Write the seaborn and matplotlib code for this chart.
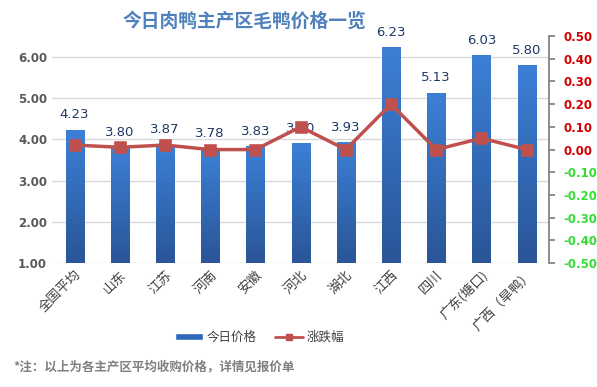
import numpy as np
import pandas as pd
import seaborn as sns
import matplotlib
matplotlib.use('Agg')
import matplotlib.pyplot as plt
from matplotlib.lines import Line2D
from matplotlib.patches import Patch
from matplotlib.colors import LinearSegmentedColormap

sns.set_theme(style="white")
plt.rcParams['font.family'] = ['Noto Sans CJK SC', 'DejaVu Sans']

# data
regions = ['全国平均', '山东', '江苏', '河南', '安徽', '河北', '湖北', '江西', '四川', '广东(塘口)', '广西（旱鸭）']
prices = [4.23, 3.80, 3.87, 3.78, 3.83, 3.90, 3.93, 6.23, 5.13, 6.03, 5.80]
changes = [0.02, 0.01, 0.02, 0.00, 0.00, 0.10, 0.00, 0.20, 0.00, 0.05, 0.00]
left_ticks = [1, 2, 3, 4, 5, 6]
right_ticks = [-0.5, -0.4, -0.3, -0.2, -0.1, 0.0, 0.1, 0.2, 0.3, 0.4, 0.5]

df = pd.DataFrame({'region': regions, 'price': prices, 'change': changes})

bar_color = '#2f68b8'
line_color = '#c0504d'

fig = plt.figure(figsize=(5.97, 3.87), dpi=100)
ax = fig.add_axes([0.087, 0.32, 0.833, 0.587])

sns.barplot(data=df, x='region', y='price', color=bar_color, width=0.4,
            saturation=1, ax=ax, zorder=2)
ax.set_ylim(1, 6.5)
ax.set_xlim(-0.5, len(regions) - 0.5)

# vertical gradient on each bar (lighter top, darker bottom)
cmap = LinearSegmentedColormap.from_list('bars', ['#2a5597', '#3c80d6'])
grad = np.linspace(0, 1, 256).reshape(-1, 1)
for p in ax.patches:
    x0, y0 = p.get_x(), p.get_y()
    w, h = p.get_width(), p.get_height()
    im = ax.imshow(grad, cmap=cmap, aspect='auto', origin='lower',
                   extent=[x0, x0 + w, 1, y0 + h], zorder=2.5)
    im.set_clip_path(p)
ax.set_xlim(-0.5, len(regions) - 0.5)
ax.set_ylim(1, 6.5)

ax.set_yticks(left_ticks)
ax.set_yticklabels(['%.2f' % v for v in left_ticks],
                   color='#595959', fontsize=8.5, fontweight='bold', family='DejaVu Sans')
ax.yaxis.grid(True, color='#d9d9d9', linewidth=1, zorder=0)
ax.set_axisbelow(True)
ax.set_xlabel('')
ax.set_ylabel('')
for s in ['top', 'right', 'left', 'bottom']:
    ax.spines[s].set_visible(False)
ax.tick_params(axis='both', length=0)
ax.set_xticks(range(len(regions)))
ax.set_xticklabels(regions, rotation=45, ha='right', rotation_mode='anchor',
                   fontsize=9.5, color='#404040')

# value labels over the bars
for i, v in enumerate(prices):
    ax.text(i, v + 0.36, '%.2f' % v, ha='center', va='center', fontsize=9.5,
            color='#1f3864', family='DejaVu Sans', zorder=5)

# change line on the second axis
ax2 = ax.twinx()
sns.pointplot(data=df, x='region', y='change', color=line_color, markers='s',
              markersize=7, linewidth=2.5, errorbar=None, ax=ax2)
ax2.set_ylim(-0.5, 0.5)
ax2.set_xlim(-0.5, len(regions) - 0.5)
ax2.set_yticks(right_ticks)
ax2.set_yticklabels(['%.2f' % t for t in right_ticks], fontsize=8.5, fontweight='bold',
                    family='DejaVu Sans')
for lab, t in zip(ax2.get_yticklabels(), right_ticks):
    lab.set_color('#d00000' if t >= 0 else '#33dd33')
ax2.set_ylabel('')
ax2.set_xlabel('')
for s in ['top', 'left', 'bottom']:
    ax2.spines[s].set_visible(False)
ax2.spines['right'].set_color('#808080')
ax2.tick_params(axis='y', length=4, color='#808080', pad=6)

# title, legend, footnote
fig.text(0.41, 0.945, '今日肉鸭主产区毛鸭价格一览', ha='center', va='center',
         fontsize=13.5, fontweight='bold', color='#4f81bd')

handles = [Patch(facecolor=bar_color, label='今日价格'),
           Line2D([], [], color=line_color, marker='s', markersize=5, linewidth=2, label='涨跌幅')]
fig.legend(handles=handles, loc='center', bbox_to_anchor=(0.435, 0.128), ncol=2,
           frameon=False, fontsize=9, handlelength=2.2, handleheight=0.5,
           columnspacing=1.5, handletextpad=0.3, labelcolor='#404040')

fig.text(0.022, 0.052, '*注：以上为各主产区平均收购价格，详情见报价单', ha='left', va='center',
         fontsize=9, fontweight='bold', color='#808080')

fig.savefig('out.png', dpi=100)
